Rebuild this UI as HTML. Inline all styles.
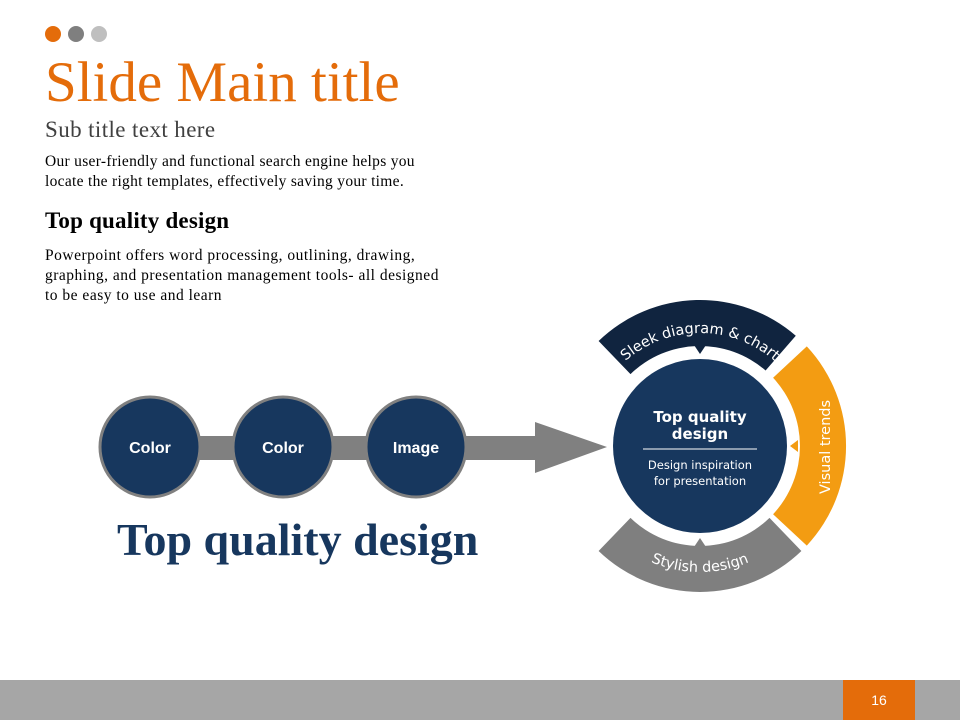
<!DOCTYPE html>
<html><head><meta charset="utf-8"><style>
body{margin:0;width:960px;height:720px;background:#fff;overflow:hidden;position:relative;font-family:"Liberation Serif",serif}
.t{position:absolute;left:45px;white-space:nowrap}
</style></head><body>
<div style="position:absolute;left:45px;top:26px">
<span style="display:inline-block;width:16px;height:16px;border-radius:50%;background:#e46c0a"></span>
<span style="display:inline-block;width:16px;height:16px;border-radius:50%;background:#7f7f7f;margin-left:3px"></span>
<span style="display:inline-block;width:16px;height:16px;border-radius:50%;background:#bfbfbf;margin-left:3px"></span>
</div>
<div class="t" style="top:50px;font-size:57px;color:#e46c0a;">Slide Main title</div>
<div class="t" style="top:117px;font-size:23px;color:#404040;letter-spacing:0.4px">Sub title text here</div>
<div class="t" style="top:152px;font-size:15.5px;line-height:20px;color:#000;letter-spacing:0.3px">Our user-friendly and functional search engine helps you<br>locate the right templates, effectively saving your time.</div>
<div class="t" style="top:208px;font-size:23px;font-weight:bold;color:#000;letter-spacing:0.2px">Top quality design</div>
<div class="t" style="top:246px;font-size:15.5px;line-height:20px;color:#000;letter-spacing:0.5px">Powerpoint offers word processing, outlining, drawing,<br>graphing, and presentation management tools- all designed<br>to be easy to use and learn</div>
<svg width="960" height="720" style="position:absolute;left:0;top:0">
<rect x="150" y="436" width="390" height="24" fill="#808080"/>
<polygon points="535,422 607,447 535,473" fill="#808080"/>
<g fill="#17375e" stroke="#808080" stroke-width="3">
<circle cx="150" cy="447" r="50"/><circle cx="283" cy="447" r="50"/><circle cx="416" cy="447" r="50"/></g>
<g fill="#fff" font-family="Liberation Sans,sans-serif" font-weight="bold" font-size="16" text-anchor="middle">
<text x="150" y="453">Color</text><text x="283" y="453">Color</text><text x="416" y="453">Image</text></g>
<text x="117" y="555" font-size="46" font-weight="bold" fill="#17375e" font-family="Liberation Serif,serif">Top quality design</text>
<path d="M598.6,341 A146,146 0 0 1 795.8,335.8 L765.6,370.5 A100,100 0 0 0 630.5,374.1 Z" fill="#10243f"/>
<path d="M806.8,346.4 A146,146 0 0 1 806.8,545.6 L773.1,514.2 A100,100 0 0 0 773.1,377.8 Z" fill="#f39c12"/>
<path d="M801.4,551 A146,146 0 0 1 598.6,551 L630.5,517.9 A100,100 0 0 0 769.5,517.9 Z" fill="#7f7f7f"/>
<circle cx="700" cy="446" r="87" fill="#17375e"/>
<polygon points="694,345 700,354 706,345" fill="#10243f"/>
<polygon points="798,440 790,446 798,452" fill="#f39c12"/>
<polygon points="694,547 700,538 706,547" fill="#7f7f7f"/>
<defs>
<path id="a1" d="M613.4,373.4 A113,113 0 0 1 786.6,373.4"/>
<path id="a2" d="M603.5,527 A126,126 0 0 0 796.5,527"/>
</defs>
<g font-family="DejaVu Sans,sans-serif" fill="#fff" font-size="14.5">
<text text-anchor="middle"><textPath href="#a1" startOffset="50%">Sleek diagram &amp; chart</textPath></text>
<text text-anchor="middle"><textPath href="#a2" startOffset="50%">Stylish design</textPath></text>
<text transform="translate(830,447) rotate(-90)" text-anchor="middle">Visual trends</text>
</g>
<g fill="#fff" font-family="DejaVu Sans,sans-serif" text-anchor="middle">
<text x="700" y="422" font-size="15" font-weight="bold">Top quality</text>
<text x="700" y="439" font-size="15" font-weight="bold">design</text>
<line x1="643" y1="449" x2="757" y2="449" stroke="#fff" stroke-width="1"/>
<text x="700" y="469" font-size="11.5">Design inspiration</text>
<text x="700" y="485" font-size="11.5">for presentation</text>
</g>
<rect x="0" y="680" width="960" height="40" fill="#a6a6a6"/>
<rect x="843" y="680" width="72" height="40" fill="#e46c0a"/>
<text x="879" y="705" fill="#fff" font-family="Liberation Sans,sans-serif" font-size="14" text-anchor="middle">16</text>
</svg>
</body></html>
